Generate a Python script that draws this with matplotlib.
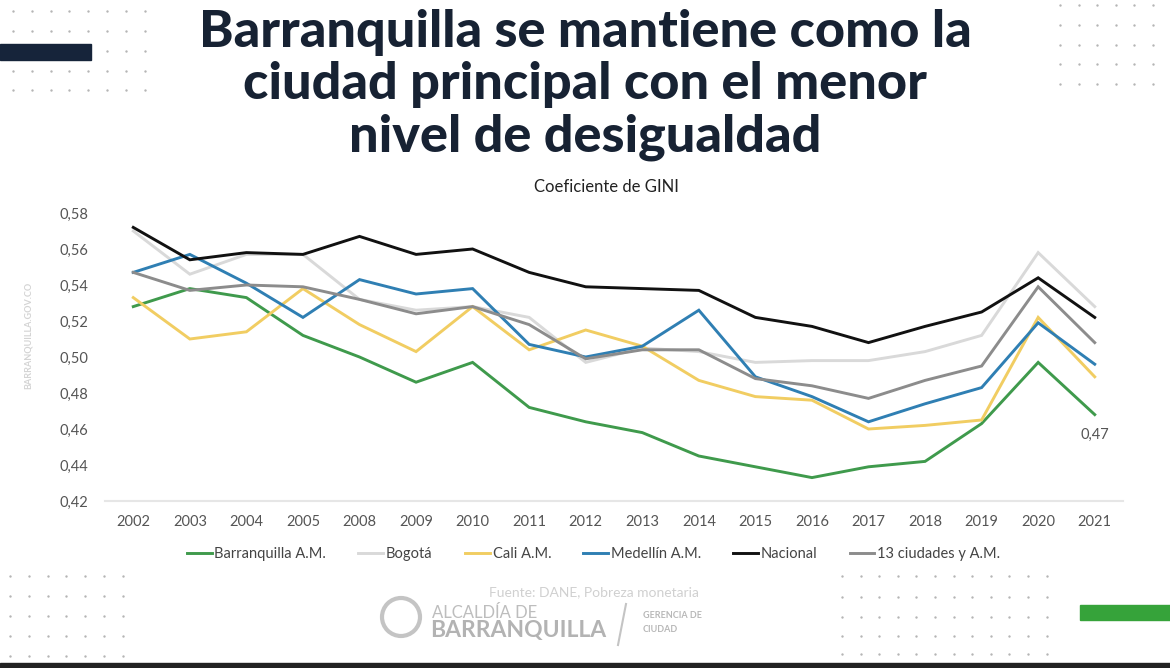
import matplotlib
matplotlib.use("Agg")
import matplotlib.pyplot as plt
from matplotlib.patches import Rectangle, Circle

# ---------------- data ----------------
years = ["2002", "2003", "2004", "2005", "2008", "2009", "2010", "2011", "2012",
         "2013", "2014", "2015", "2016", "2017", "2018", "2019", "2020", "2021"]

barranquilla = [0.528, 0.538, 0.533, 0.512, 0.500, 0.486, 0.497, 0.472, 0.464,
                0.458, 0.445, 0.439, 0.433, 0.439, 0.442, 0.463, 0.497, 0.468]
bogota = [0.570, 0.546, 0.557, 0.557, 0.532, 0.526, 0.528, 0.522, 0.497,
          0.505, 0.503, 0.497, 0.498, 0.498, 0.503, 0.512, 0.558, 0.528]
cali = [0.533, 0.510, 0.514, 0.538, 0.518, 0.503, 0.528, 0.504, 0.515,
        0.506, 0.487, 0.478, 0.476, 0.460, 0.462, 0.465, 0.522, 0.489]
medellin = [0.547, 0.557, 0.541, 0.522, 0.543, 0.535, 0.538, 0.507, 0.500,
            0.506, 0.526, 0.489, 0.478, 0.464, 0.474, 0.483, 0.519, 0.496]
nacional = [0.572, 0.554, 0.558, 0.557, 0.567, 0.557, 0.560, 0.547, 0.539,
            0.538, 0.537, 0.522, 0.517, 0.508, 0.517, 0.525, 0.544, 0.522]
trece = [0.547, 0.537, 0.540, 0.539, 0.532, 0.524, 0.528, 0.518, 0.499,
         0.504, 0.504, 0.488, 0.484, 0.477, 0.487, 0.495, 0.539, 0.508]

series_names = ["Barranquilla A.M.", "Bogotá", "Cali A.M.", "Medellín A.M.",
                "Nacional", "13 ciudades y A.M."]
series_values = [barranquilla, bogota, cali, medellin, nacional, trece]
series_colors = ["#3f9a4c", "#d9d9d9", "#f1cd62", "#2f7fb3", "#111111", "#8c8c8c"]

yticks = [0.42, 0.44, 0.46, 0.48, 0.50, 0.52, 0.54, 0.56, 0.58]
ytick_labels = ["0,42", "0,44", "0,46", "0,48", "0,50", "0,52", "0,54", "0,56", "0,58"]

FONT = ["Lato", "DejaVu Sans"]
plt.rcParams["font.family"] = FONT

W, H = 1170, 668
fig = plt.figure(figsize=(W / 100, H / 100), dpi=100)
fig.patch.set_facecolor("white")

# ---------- decoration overlay (pixel coordinates) ----------
deco = fig.add_axes([0, 0, 1, 1], zorder=0)
deco.set_xlim(0, W)
deco.set_ylim(H, 0)
deco.axis("off")

def dot_grid(xs, ys):
    for yy in ys:
        deco.scatter(xs, [yy] * len(xs), s=3, color="#b5b5b5", linewidths=0)

dot_grid([13 + 18.8 * i for i in range(8)], [11, 30.5, 50.5, 70.5, 90])
dot_grid([1060 + 18.6 * i for i in range(6)], [5, 24.5, 44.5, 64, 84])
dot_grid([10 + 18.8 * i for i in range(7)], [576, 596, 616, 636, 656])
dot_grid([842 + 18.6 * i for i in range(12)], [576, 597, 617, 636, 654])

deco.add_patch(Rectangle((0, 44), 91, 16, color="#16243a", zorder=2))
deco.add_patch(Rectangle((1080, 605), 90, 15, color="#36a33a", zorder=2))
deco.add_patch(Rectangle((0, 663), W, 5, color="#222222", zorder=2))

title_lines = ["Barranquilla se mantiene como la",
               "ciudad principal con el menor",
               "nivel de desigualdad"]
for ty, line in zip([33, 85, 137], title_lines):
    deco.text(585, ty, line, ha="center", va="center", fontsize=37.5,
              fontweight="black", color="#172233")

deco.text(606, 187, "Coeficiente de GINI", ha="center", va="center",
          fontsize=12, color="#222222")

deco.text(28, 335, "BARRANQUILLA.GOV.CO", rotation=90, ha="center",
          va="center", fontsize=6.5, color="#d4d4d4", fontweight="bold")

# footer
deco.text(594, 592, "Fuente: DANE, Pobreza monetaria", ha="center",
          va="center", fontsize=10, color="#d0d0d0")
deco.add_patch(Circle((401, 617), 19, facecolor="none", edgecolor="#c4c4c4",
                      linewidth=3))
deco.text(432, 613, "ALCALDÍA DE", ha="left", va="center", fontsize=12,
          color="#bdbdbd")
deco.text(430, 631, "BARRANQUILLA", ha="left", va="center", fontsize=16.5,
          color="#b3b3b3", fontweight="bold")
deco.plot([626, 618], [604, 645], color="#c4c4c4", linewidth=1.5)
deco.text(643, 616, "GERENCIA DE", ha="left", va="center", fontsize=6.5,
          color="#b8b8b8", fontweight="bold")
deco.text(643, 630, "CIUDAD", ha="left", va="center", fontsize=6.5,
          color="#b8b8b8", fontweight="bold")

# ---------------- chart ----------------
left, right, top, bottom = 105, 1123, 213, 501
ax = fig.add_axes([left / W, 1 - bottom / H, (right - left) / W, (bottom - top) / H],
                  zorder=2)
ax.patch.set_alpha(0)

x = list(range(len(years)))
for name, vals, col in zip(series_names, series_values, series_colors):
    ax.plot(x, vals, color=col, linewidth=2.1, label=name, solid_joinstyle="miter")

ax.set_xlim(-0.5, len(years) - 0.5)
ax.set_ylim(0.42, 0.58)
ax.set_yticks(yticks)
ax.set_yticklabels(ytick_labels)
ax.set_xticks(x)
ax.set_xticklabels(years)
ax.tick_params(axis="both", length=0, labelsize=10.5, colors="#555555")
ax.tick_params(axis="y", pad=12)
ax.tick_params(axis="x", pad=10)
for s in ["top", "right", "left"]:
    ax.spines[s].set_visible(False)
ax.spines["bottom"].set_color("#e6e6e6")
ax.spines["bottom"].set_linewidth(1.5)

ax.annotate("0,47", xy=(x[-1], barranquilla[-1]), xytext=(x[-1], barranquilla[-1] - 0.0115),
            ha="center", va="center", fontsize=10.5, color="#555555")

leg = ax.legend(loc="upper center", bbox_to_anchor=(0.480, -0.115), ncol=6,
                frameon=False, fontsize=10.5, handlelength=1.7, handletextpad=0.2,
                columnspacing=2.2)
for t in leg.get_texts():
    t.set_color("#444444")

fig.savefig("out.png", dpi=100, facecolor="white")
